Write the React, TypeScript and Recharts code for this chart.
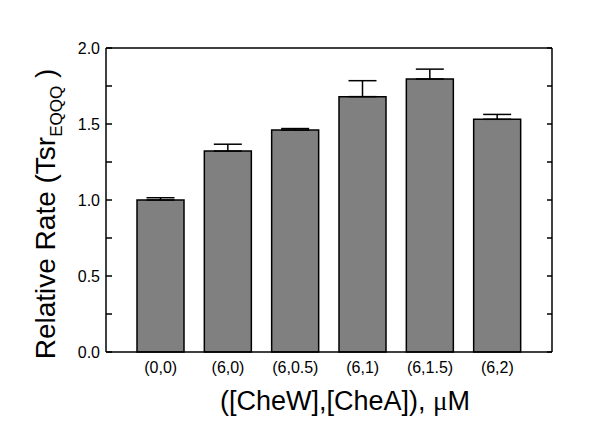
import { Bar, BarChart, ErrorBar, Label, ReferenceLine, XAxis, YAxis } from "recharts";

const categories = ["(0,0)", "(6,0)", "(6,0.5)", "(6,1)", "(6,1.5)", "(6,2)"];
const rates = [1.0, 1.322, 1.46, 1.68, 1.796, 1.531];
const upperErrors = [0.015, 0.045, 0.01, 0.105, 0.065, 0.032];
const yTicks = [0, 0.25, 0.5, 0.75, 1, 1.25, 1.5, 1.75, 2];

const data = categories.map((c, i) => ({
  name: c,
  rate: rates[i],
  err: [0, upperErrors[i]],
}));

const FONT = "'Liberation Sans', Arial, sans-serif";
const CHART_W = 600;
const MARGIN = { top: 48, right: 38, bottom: 0, left: 0 };
const LEFT_AXIS_W = 106;
const RIGHT_AXIS_W = 10;
const PLOT_W = CHART_W - MARGIN.left - MARGIN.right - LEFT_AXIS_W - RIGHT_AXIS_W;

const isMajor = (v: number) => Math.abs(v * 2 - Math.round(v * 2)) < 1e-6;

// inward ticks on both frame sides + label; x here is where the label anchors (axis - 6)
const LeftTick = (props: any) => {
  const { x, y, payload } = props;
  const v = payload.value as number;
  const axisX = x + 6;
  return (
    <g>
      <path d={`M${axisX},${y}h6`} stroke="#000" strokeWidth={1.5} fill="none" />
      <path d={`M${axisX + PLOT_W},${y}h-5`} stroke="#000" strokeWidth={1.5} fill="none" />
      {isMajor(v) && (
        <text x={x} y={y} dy={6} textAnchor="end" fontSize={16} fontFamily={FONT} fill="#000">
          {v.toFixed(1)}
        </text>
      )}
    </g>
  );
};

const YTitle = (props: any) => {
  const { viewBox } = props;
  const cy = viewBox.y + viewBox.height / 2 + 14;
  return (
    <text
      transform={`translate(55, ${cy}) rotate(-90)`}
      textAnchor="middle"
      fontSize={28}
      fontFamily={FONT}
      fill="#000"
    >
      Relative Rate (Tsr
      <tspan fontSize={17} dy={7}>EQQQ</tspan>
      <tspan dy={-7}> )</tspan>
    </text>
  );
};

const XTitle = (props: any) => {
  const { viewBox } = props;
  const cx = viewBox.x + viewBox.width / 2 + 16;
  return (
    <text x={cx} y={410} textAnchor="middle" fontSize={27} fontFamily={FONT} fill="#000">
      ([CheW],[CheA]),{" "}
      <tspan fontFamily="'Liberation Serif', serif">μ</tspan>M
    </text>
  );
};

export default function App() {
  return (
    <div style={{ position: "absolute", left: 0, top: 0, background: "#fff" }}>
      <BarChart width={CHART_W} height={446} data={data} margin={MARGIN} barSize={47}>
        <XAxis
          dataKey="name"
          height={94}
          padding={{ left: 21, right: 21 }}
          axisLine={{ stroke: "#000", strokeWidth: 1.5 }}
          tickLine={false}
          tickSize={0}
          tickMargin={10}
          tick={{ fontSize: 16, fontFamily: FONT, fill: "#000" }}
          interval={0}
        >
          <Label content={<XTitle />} />
        </XAxis>
        <YAxis
          yAxisId="left"
          width={LEFT_AXIS_W}
          domain={[0, 2]}
          ticks={yTicks}
          interval={0}
          axisLine={{ stroke: "#000", strokeWidth: 1.5 }}
          tickLine={false}
          tickSize={0}
          tickMargin={6}
          tick={LeftTick}
        >
          <Label content={<YTitle />} />
        </YAxis>
        <YAxis
          yAxisId="right"
          orientation="right"
          width={RIGHT_AXIS_W}
          domain={[0, 2]}
          axisLine={{ stroke: "#000", strokeWidth: 1.5 }}
          tickLine={false}
          tick={false}
        />
        <ReferenceLine yAxisId="left" y={2} stroke="#000" strokeWidth={1.5} />
        <Bar
          yAxisId="left"
          dataKey="rate"
          fill="#808080"
          stroke="#000"
          strokeWidth={1.5}
          isAnimationActive={false}
        >
          <ErrorBar dataKey="err" width={14} stroke="#000" strokeWidth={1.5} direction="y" />
        </Bar>
      </BarChart>
    </div>
  );
}
